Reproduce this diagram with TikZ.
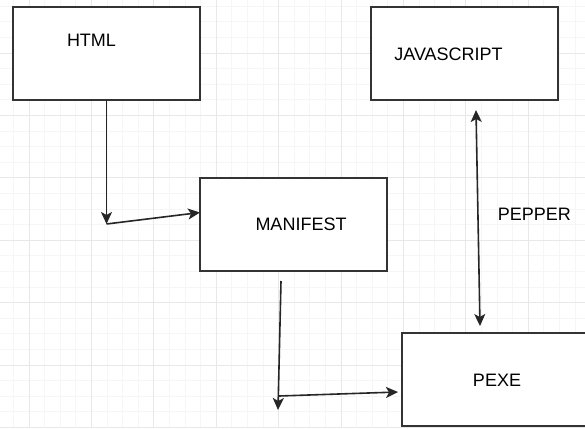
\documentclass[tikz,border=0pt]{standalone}
\usepackage{fontspec}
\setmainfont{Liberation Sans}
\usepackage{tikz}
\usetikzlibrary{arrows.meta, positioning, calc}
\definecolor{boxline}{HTML}{333333}
\definecolor{gridmajor}{HTML}{E8E8E8}
\definecolor{gridminor}{HTML}{F6F6F6}
\tikzset{
  block/.style={
    rectangle, draw=boxline, line width=1.8pt,
    minimum width=187pt, minimum height=93pt,
    outer sep=0pt, fill=white,
  },
  lbl/.style={inner sep=0pt, font=\fontsize{18}{20}\selectfont, text=black},
  arrow/.style={-{Stealth[length=12pt,width=11pt,inset=3pt]}, line width=1.6pt, color=black!85},
  twoway/.style={{Stealth[length=12pt,width=11pt,inset=3pt]}-{Stealth[length=12pt,width=11pt,inset=3pt]}, line width=1.6pt, color=black!85},
  minorline/.style={gridminor, line width=0.8pt},
  majorline/.style={gridmajor, line width=1pt},
}

\begin{document}
\begin{tikzpicture}[x=1pt,y=-1pt]
  \useasboundingbox (0,0) rectangle (585,428);
  \fill[white] (0,0) rectangle (585,428);
  % grid
  \foreach \i in {0,...,38} \draw[minorline] ({-2.2+15.6*\i},0) -- ++(0,428);
  \foreach \i in {0,...,28} \draw[minorline] (0,{-9.4+15.6*\i}) -- ++(585,0);
  \foreach \i in {0,...,9} \draw[majorline] ({29+62.4*\i},0) -- ++(0,428);
  \foreach \i in {0,...,7} \draw[majorline] (0,{-9.4+62.4*\i}) -- ++(585,0);
  % boxes
  \node[block] (html) at (106.5,53.5) {};
  \node[block,right=171pt of html] (javascript) {};
  \node[block,below right=78pt and 0pt of html] (manifest) {};
  \node[block,below right=62pt and 15pt of manifest] (pexe) {};
  \node[lbl] (htmltxt) at ($(html.center)+(-15,-13.5)$) {HTML};
  \node[lbl] (jstxt) at ($(javascript.center)+(-16,0.5)$) {JAVASCRIPT};
  \node[lbl] (mantxt) at ($(manifest.center)+(7.5,0)$) {MANIFEST};
  \node[lbl] (pexetxt) at ($(pexe.center)+(1.5,0.5)$) {PEXE};
  % bends
  \coordinate (bend1) at (106.5,224);
  \coordinate (drop1) at (281,281);
  \coordinate (drop2) at (278,410);
  \coordinate (bend2) at (279,396);
  % connectors
  \draw[arrow] (html.south)--(bend1);
  \draw[arrow] (bend1)--([yshift=12pt]manifest.west);
  \draw[arrow] (drop1)--(drop2);
  \draw[arrow] (bend2)--([xshift=-4pt,yshift=-12.5pt]pexe.west);
  \draw[twoway] ([xshift=11.5pt,yshift=-10pt]javascript.south)--
    node[lbl,midway,right=19pt,yshift=3.5pt]{PEPPER}([xshift=-15.5pt,yshift=7pt]pexe.north);
\end{tikzpicture}
\end{document}
